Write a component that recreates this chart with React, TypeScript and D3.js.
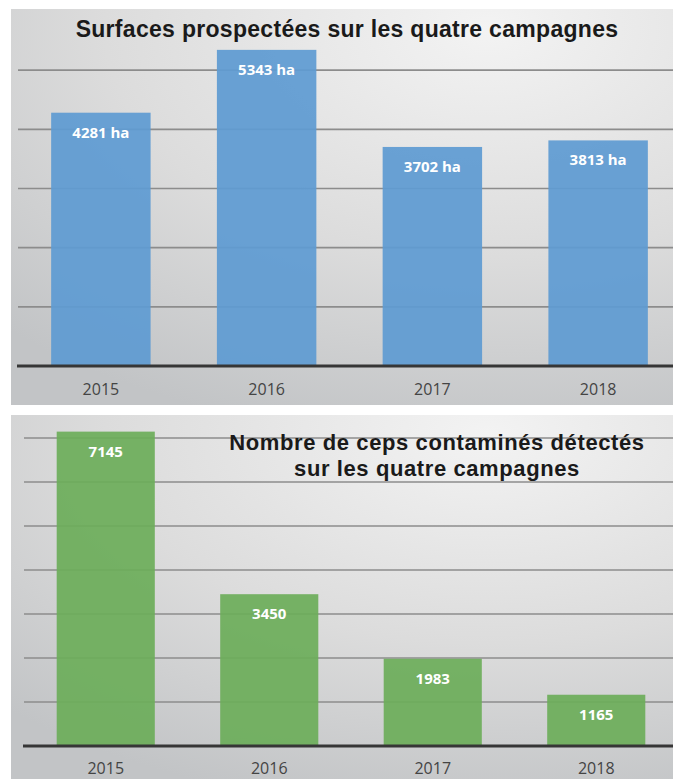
import React from "react";
import * as d3 from "d3";

const years = ["2015", "2016", "2017", "2018"];
const surfaces = [4281, 5343, 3702, 3813];
const ceps = [7145, 3450, 1983, 1165];
const surfaceTicks = [1000, 2000, 3000, 4000, 5000];
const cepsTicks = [1000, 2000, 3000, 4000, 5000, 6000, 7000];
const title1 = "Surfaces prospectées sur les quatre campagnes";
const title2 = ["Nombre de ceps contaminés détectés", "sur les quatre campagnes"];

const W = 675;
const H = 779;
const PANEL_R = 673;

type PanelProps = {
  values: number[];
  ticks: number[];
  yDomainMax: number;
  yRange: [number, number];
  xRange: [number, number];
  color: string;
  suffix: string;
  labelY: number;
};

function Bars(p: PanelProps) {
  const x = d3.scaleBand<string>().domain(years).range(p.xRange).paddingInner(0.4).paddingOuter(0.2);
  const y = d3.scaleLinear().domain([0, p.yDomainMax]).range(p.yRange);
  const base = y(0);
  return (
    <g>
      {p.ticks.map((t) => (
        <line key={t} x1={p.xRange[0]} x2={PANEL_R} y1={y(t)} y2={y(t)} stroke="#8c8c8c" strokeWidth={1.6} />
      ))}
      {years.map((yr, i) => {
        const v = p.values[i];
        const bx = x(yr)!;
        return (
          <g key={yr}>
            <rect x={bx} y={y(v)} width={x.bandwidth()} height={base - y(v)} fill={p.color} fillOpacity={0.93} />
            <text
              x={bx + x.bandwidth() / 2}
              y={y(v) + 25}
              textAnchor="middle"
              fontFamily="'Open Sans', sans-serif"
              fontWeight={700}
              fontSize={15}
              fill="#ffffff"
            >
              {v + p.suffix}
            </text>
            <text
              x={bx + x.bandwidth() / 2}
              y={p.labelY}
              textAnchor="middle"
              fontFamily="'Open Sans', sans-serif"
              fontSize={16}
              fill="#444444"
            >
              {yr}
            </text>
          </g>
        );
      })}
      <line x1={p.xRange[0] - 1} x2={PANEL_R} y1={base} y2={base} stroke="#363636" strokeWidth={3} />
    </g>
  );
}

export default function App() {
  return (
    <svg width={W} height={H} style={{ position: "absolute", left: 0, top: 0, background: "#ffffff" }}>
      <defs>
        <radialGradient id="bg1" cx="0.72" cy="0.05" r="1.05" fx="0.72" fy="0.05">
          <stop offset="0" stopColor="#f3f3f3" />
          <stop offset="0.55" stopColor="#dcdcdc" />
          <stop offset="1" stopColor="#c2c4c6" />
        </radialGradient>
      </defs>
      <rect x={11} y={9} width={PANEL_R - 11} height={396} fill="url(#bg1)" />
      <rect x={11} y={415} width={PANEL_R - 11} height={H - 415} fill="url(#bg1)" />

      <Bars
        values={surfaces}
        ticks={surfaceTicks}
        yDomainMax={6000}
        yRange={[366, 11]}
        xRange={[18, 681]}
        color="#5f9bd2"
        suffix=" ha"
        labelY={395}
      />
      <Bars
        values={ceps}
        ticks={cepsTicks}
        yDomainMax={7000}
        yRange={[746, 438]}
        xRange={[24, 678]}
        color="#6dad5a"
        suffix=""
        labelY={774}
      />

      <text
        x={347}
        y={37}
        textAnchor="middle"
        fontFamily="'Liberation Sans', Arial, sans-serif"
        fontWeight={700}
        fontSize={23}
        letterSpacing={0.3}
        fill="#1a1a1a"
      >
        {title1}
      </text>
      {title2.map((t, i) => (
        <text
          key={i}
          x={437}
          y={450 + i * 26}
          textAnchor="middle"
          fontFamily="'Liberation Sans', Arial, sans-serif"
          fontWeight={700}
          fontSize={22}
          letterSpacing={0.6}
          fill="#1a1a1a"
        >
          {t}
        </text>
      ))}
    </svg>
  );
}
